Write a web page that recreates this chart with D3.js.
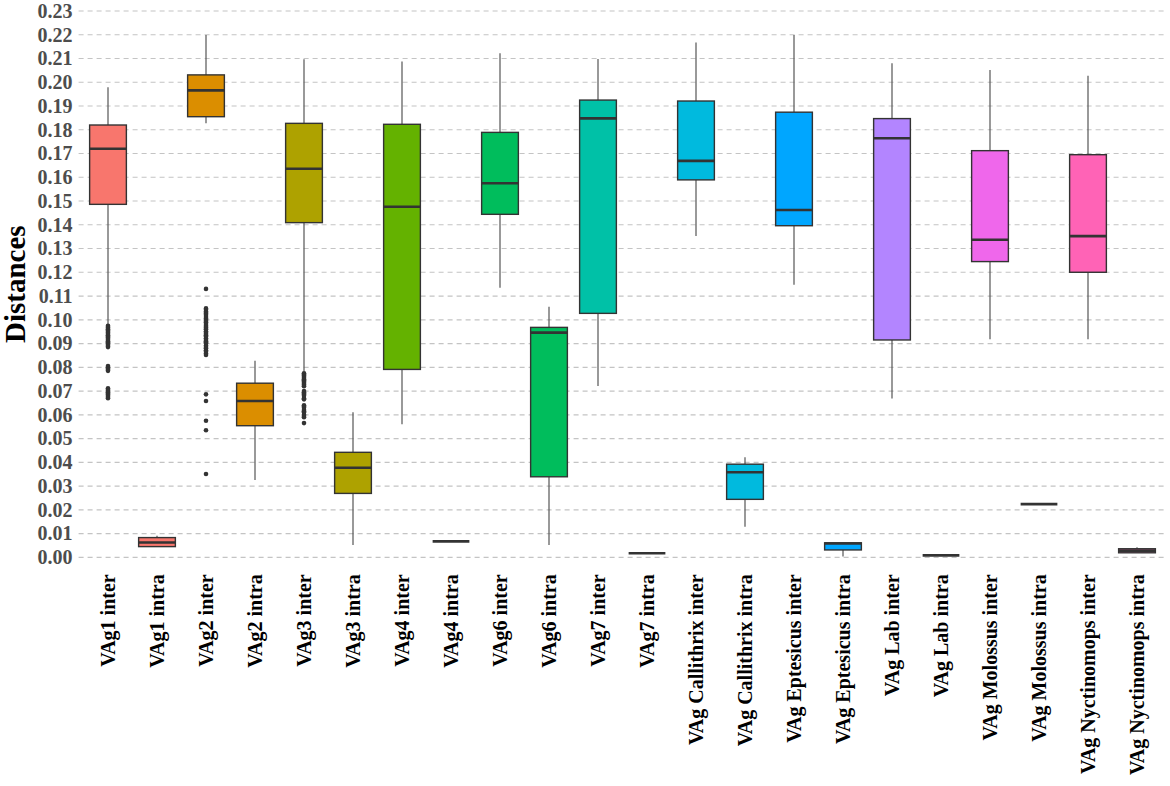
<!DOCTYPE html>
<html>
<head>
<meta charset="utf-8">
<script src="https://cdn.jsdelivr.net/npm/d3@7"></script>
<style>
  body { margin: 0; background: #fff; }
  svg { display: block; }
  text { font-family: "Liberation Serif", "Times New Roman", serif; font-weight: bold; }
</style>
</head>
<body>
<svg id="chart" width="1170" height="786"></svg>
<script>
// categories, in plotting order
const categories = [
  "VAg1 inter", "VAg1 intra", "VAg2 inter", "VAg2 intra", "VAg3 inter", "VAg3 intra",
  "VAg4 inter", "VAg4 intra", "VAg6 inter", "VAg6 intra", "VAg7 inter", "VAg7 intra",
  "VAg Callithrix inter", "VAg Callithrix intra", "VAg Eptesicus inter", "VAg Eptesicus intra",
  "VAg Lab inter", "VAg Lab intra", "VAg Molossus inter", "VAg Molossus intra",
  "VAg Nyctinomops inter", "VAg Nyctinomops intra"
];

// fill colour per virus group (inter + intra share one)
const groups = ["VAg1", "VAg2", "VAg3", "VAg4", "VAg6", "VAg7", "VAg Callithrix",
  "VAg Eptesicus", "VAg Lab", "VAg Molossus", "VAg Nyctinomops"];
const groupColors = ["#F8766D", "#DB8E00", "#AEA200", "#64B200", "#00BD5C", "#00C1A7",
  "#00BADE", "#00A6FF", "#B385FF", "#EF67EB", "#FF63B6"];

// box statistics
const whiskerLow  = [0.0980, 0.0044, 0.1827, 0.0325, 0.0781, 0.0052, 0.0560, 0.0067, 0.1135, 0.0052, 0.0721,
                     0.0017, 0.1353, 0.0129, 0.1147, 0.0003, 0.0669, 0.0008, 0.0918, 0.0224, 0.0918, 0.0019];
const q1          = [0.1486, 0.0045, 0.1855, 0.0554, 0.1409, 0.0269, 0.0791, 0.0067, 0.1444, 0.0339, 0.1027,
                     0.0017, 0.1589, 0.0244, 0.1396, 0.0031, 0.0915, 0.0008, 0.1245, 0.0224, 0.1200, 0.0019];
const median      = [0.1720, 0.0062, 0.1966, 0.0658, 0.1636, 0.0377, 0.1476, 0.0067, 0.1575, 0.0946, 0.1848,
                     0.0017, 0.1669, 0.0358, 0.1462, 0.0058, 0.1764, 0.0008, 0.1337, 0.0224, 0.1352, 0.0028];
const q3          = [0.1820, 0.0083, 0.2031, 0.0733, 0.1827, 0.0442, 0.1823, 0.0067, 0.1789, 0.0968, 0.1925,
                     0.0017, 0.1921, 0.0392, 0.1874, 0.0061, 0.1847, 0.0008, 0.1712, 0.0224, 0.1695, 0.0036];
const whiskerHigh = [0.1979, 0.0091, 0.2199, 0.0828, 0.2097, 0.0611, 0.2087, 0.0067, 0.2122, 0.1055, 0.2098,
                     0.0017, 0.2167, 0.0421, 0.2199, 0.0061, 0.2080, 0.0008, 0.2052, 0.0224, 0.2027, 0.0042];

// outliers
const outliersVAg1Inter = [0.0975, 0.0970, 0.0965, 0.0960, 0.0955, 0.0950, 0.0945, 0.0940, 0.0935, 0.0930,
  0.0925, 0.0920, 0.0915, 0.0910, 0.0905, 0.0900, 0.0895, 0.0890, 0.0885, 0.0805, 0.0800, 0.0795, 0.0790,
  0.0785, 0.0712, 0.0705, 0.0700, 0.0695, 0.0690, 0.0685, 0.0680, 0.0675, 0.0670];
const outliersVAg2Inter = [0.1130, 0.1048, 0.1042, 0.1035, 0.1030, 0.1025, 0.1020, 0.1012, 0.1005, 0.1000,
  0.0995, 0.0990, 0.0982, 0.0975, 0.0970, 0.0965, 0.0960, 0.0952, 0.0945, 0.0940, 0.0935, 0.0930, 0.0922,
  0.0915, 0.0910, 0.0905, 0.0900, 0.0892, 0.0885, 0.0880, 0.0872, 0.0865, 0.0858, 0.0852,
  0.0686, 0.0658, 0.0575, 0.0535, 0.0351];
const outliersVAg3Inter = [0.0775, 0.0770, 0.0765, 0.0760, 0.0755, 0.0750, 0.0745, 0.0740, 0.0735, 0.0730,
  0.0725, 0.0720, 0.0700, 0.0695, 0.0690, 0.0685, 0.0680, 0.0670, 0.0665, 0.0640, 0.0635, 0.0630, 0.0620,
  0.0615, 0.0610, 0.0600, 0.0595, 0.0590, 0.0565];
const outlierSets = [
  ["VAg1 inter", outliersVAg1Inter],
  ["VAg2 inter", outliersVAg2Inter],
  ["VAg3 inter", outliersVAg3Inter]
];

const yTicks = [0, 0.01, 0.02, 0.03, 0.04, 0.05, 0.06, 0.07, 0.08, 0.09, 0.10, 0.11,
  0.12, 0.13, 0.14, 0.15, 0.16, 0.17, 0.18, 0.19, 0.20, 0.21, 0.22, 0.23];

const svg = d3.select("#chart");
const plotLeft = 78.6, plotRight = 1166.4, plotTop = 11, plotBottom = 557.3;

const x = d3.scaleBand()
  .domain(categories)
  .range([plotLeft, plotRight])
  .paddingInner(0.25)
  .paddingOuter(0.225);

const y = d3.scaleLinear()
  .domain([0, 0.23])
  .range([plotBottom, plotTop]);

const colorOf = d3.scaleOrdinal().domain(groups).range(groupColors);
const groupOf = c => c.replace(/ (inter|intra)$/, "");

// grid
svg.append("g")
  .selectAll("line")
  .data(yTicks)
  .join("line")
  .attr("x1", plotLeft)
  .attr("x2", plotRight)
  .attr("y1", d => y(d))
  .attr("y2", d => y(d))
  .attr("stroke", "#c4c4c4")
  .attr("stroke-width", 1.2)
  .attr("stroke-dasharray", "5,4");

// y axis
const yAxis = svg.append("g")
  .attr("transform", `translate(${plotLeft},0)`)
  .call(d3.axisLeft(y).tickValues(yTicks).tickFormat(d3.format(".2f")).tickSize(0).tickPadding(6));
yAxis.select(".domain").remove();
yAxis.selectAll("text")
  .attr("fill", "#4d4d4d")
  .style("font-size", "20px")
  .style("font-family", "'Liberation Serif', serif")
  .style("font-weight", "bold");

// x axis
const xAxis = svg.append("g")
  .attr("transform", `translate(0,${plotBottom})`)
  .call(d3.axisBottom(x).tickSize(0));
xAxis.select(".domain").remove();
xAxis.selectAll("text")
  .attr("transform", "rotate(-90)")
  .attr("text-anchor", "end")
  .attr("x", -17)
  .attr("y", 0)
  .attr("dy", "0.35em")
  .attr("fill", "#000")
  .style("font-size", "20px")
  .style("font-family", "'Liberation Serif', serif")
  .style("font-weight", "bold");

// y title
svg.append("text")
  .attr("transform", `translate(25,${(plotTop + plotBottom) / 2}) rotate(-90)`)
  .attr("text-anchor", "middle")
  .attr("fill", "#000")
  .style("font-size", "29px")
  .text("Distances");

// boxes
const boxes = categories.map((c, i) => ({
  cat: c, lo: whiskerLow[i], q1: q1[i], med: median[i], q3: q3[i], hi: whiskerHigh[i]
}));
const bw = x.bandwidth();
const boxG = svg.append("g")
  .selectAll("g")
  .data(boxes)
  .join("g")
  .attr("transform", d => `translate(${x(d.cat)},0)`);

boxG.append("line")
  .attr("x1", bw / 2).attr("x2", bw / 2)
  .attr("y1", d => y(d.q3)).attr("y2", d => y(d.hi))
  .attr("stroke", "#555").attr("stroke-width", 1.2);
boxG.append("line")
  .attr("x1", bw / 2).attr("x2", bw / 2)
  .attr("y1", d => y(d.q1)).attr("y2", d => y(d.lo))
  .attr("stroke", "#555").attr("stroke-width", 1.2);
boxG.append("rect")
  .attr("x", 0)
  .attr("width", bw)
  .attr("y", d => y(d.q3))
  .attr("height", d => y(d.q1) - y(d.q3))
  .attr("fill", d => colorOf(groupOf(d.cat)))
  .attr("stroke", "#333")
  .attr("stroke-width", 1.4);
boxG.append("line")
  .attr("x1", 0).attr("x2", bw)
  .attr("y1", d => y(d.med)).attr("y2", d => y(d.med))
  .attr("stroke", "#333").attr("stroke-width", 2.6);

// outliers
const pts = outlierSets.flatMap(([c, vals]) => vals.map(v => ({ cat: c, v })));
svg.append("g")
  .selectAll("circle")
  .data(pts)
  .join("circle")
  .attr("cx", d => x(d.cat) + bw / 2)
  .attr("cy", d => y(d.v))
  .attr("r", 2.3)
  .attr("fill", "#333");
</script>
</body>
</html>
